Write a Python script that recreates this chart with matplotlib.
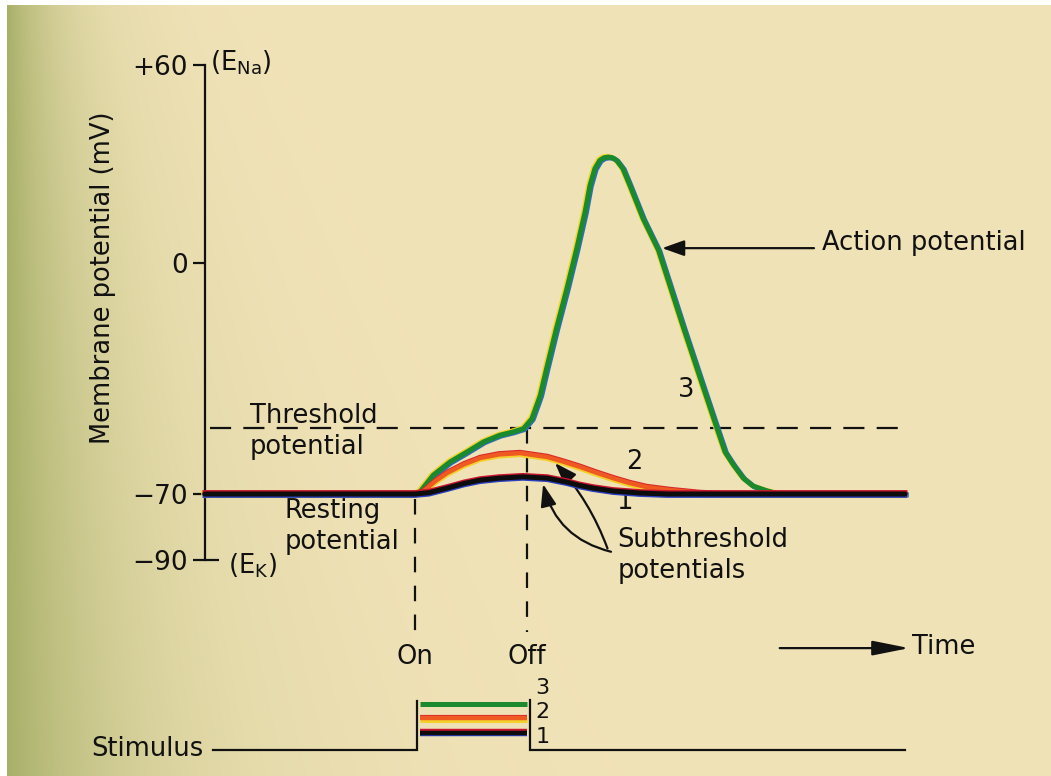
import numpy as np
import matplotlib
matplotlib.use("Agg")
import matplotlib.pyplot as plt
from matplotlib import transforms

plt.rcParams['font.family'] = ['DejaVu Sans']
plt.rcParams['mathtext.default'] = 'regular'

# ---- membrane potential scale (mV) ----
Y_TICKS = [60, 0, -70, -90]
Y_TICK_LABELS = ['+60', '0', '\u221270', '\u221290']
E_NA = 60
E_K = -90
V_REST = -70
THRESHOLD = -50

# ---- stimulus timing (arbitrary time units) ----
T_ON = 3.0
T_OFF = 4.6
T_END = 10.0

# ---- trace 3: suprathreshold response (action potential) ----
t3 = [0.0, 3.0, 3.07, 3.26, 3.5, 3.74, 3.98, 4.21, 4.4, 4.55, 4.67, 4.74, 4.79,
      4.88, 5.02, 5.17, 5.31, 5.43, 5.5, 5.57, 5.64, 5.7, 5.76, 5.82, 5.88,
      5.97, 6.07, 6.26, 6.48, 6.84, 7.1, 7.31, 7.43, 7.55, 7.69, 7.83, 8.02,
      8.2, 10.0]
v3 = [-70, -70, -69.4, -64.3, -60.3, -57.3, -54.2, -52.2, -51.2, -50.2, -47.2,
      -43.1, -40.1, -32.0, -19.9, -7.8, 4.3, 15.5, 23.5, 28.6, 31.1, 31.9, 32.1,
      31.9, 31.1, 28.6, 23.5, 13.4, 3.8, -19.9, -36.5, -49.8, -57.3, -61.2,
      -65.2, -67.6, -69.0, -70, -70]

# ---- trace 2: larger subthreshold response ----
t2 = [0.0, 3.0, 3.11, 3.29, 3.46, 3.7, 3.93, 4.2, 4.5, 4.89, 5.12, 5.36, 5.6,
      5.83, 6.07, 6.31, 6.64, 7.07, 7.4, 10.0]
v2 = [-70, -70, -69.4, -66.1, -63.6, -61.0, -59.1, -58.0, -57.6, -58.8, -60.2,
      -61.8, -63.6, -65.2, -66.7, -67.9, -68.8, -69.7, -70, -70]

# ---- trace 1: small subthreshold response ----
t1 = [0.0, 3.0, 3.2, 3.46, 3.7, 3.93, 4.2, 4.54, 4.89, 5.17, 5.35, 5.54, 5.83,
      6.21, 6.6, 10.0]
v1 = [-70, -70, -69.6, -68.2, -66.8, -65.8, -65.2, -64.8, -65.2, -66.4, -67.4,
      -68.2, -69.1, -69.7, -70, -70]

# ---- stimulus strengths (arbitrary units) ----
STIM_LEVELS = [1.2, 2.2, 3.2]
STIM_LABELS = ['1', '2', '3']

W, H = 1051, 776
fig = plt.figure(figsize=(W / 100, H / 100), dpi=100)
fig.patch.set_facecolor('white')

# paper background, olive toward the binding edge
bg = fig.add_axes([0, 0, 1, 1], zorder=0)
yy, xx = np.mgrid[0:H, 0:W]
reach = 55.0 + 85.0 * yy / H
w = np.exp(-np.clip(xx - 7, 0, None) / reach)
paper = np.array([241, 227, 184]) / 255.0
olive = np.array([168, 176, 104]) / 255.0
img = paper + (olive - paper) * w[..., None]
img[:, :7] = 1.0
img[:5, :] = 1.0
bg.imshow(img, extent=(0, W, H, 0), aspect='auto', interpolation='bilinear')
bg.set_xlim(0, W)
bg.set_ylim(H, 0)
bg.axis('off')

# main axes: time (x) vs membrane potential (y)
X0, SX = 205.0, 70.0      # pixel of t=0, pixels per time unit
Y0, SY = 263.0, 3.3       # pixel of 0 mV, pixels per mV
ax = fig.add_axes([0, 0, 1, 1], zorder=1)
ax.patch.set_visible(False)
ax.set_xlim(-X0 / SX, (W - X0) / SX)
ax.set_ylim((Y0 - H) / SY, Y0 / SY)
for s in ('top', 'right', 'bottom'):
    ax.spines[s].set_visible(False)
ax.spines['left'].set_position(('data', 0))
ax.spines['left'].set_bounds(E_K, E_NA)
ax.spines['left'].set_linewidth(1.6)
ax.spines['left'].set_color('#111111')
ax.set_xticks([])
ax.yaxis.remove_overlapping_locs = False
ax.set_yticks(Y_TICKS)
ax.set_yticklabels(Y_TICK_LABELS)
ax.set_yticks([E_K], minor=True)
ax.tick_params(axis='y', which='major', direction='out', length=9, width=1.6,
               pad=3.5, labelsize=19, colors='#111111')
ax.tick_params(axis='y', which='minor', direction='in', length=10, width=1.6,
               color='#111111', labelleft=False)

TXT = dict(fontsize=18.5, color='#111111')
HEAD = '-|>,head_length=0.9,head_width=0.32'


def shifted(dx, dy, axes=ax):
    return transforms.offset_copy(axes.transData, fig=fig, x=dx, y=dy, units='dots')


ax.text(-1.457, -4.5, 'Membrane potential (mV)', rotation=90,
        ha='center', va='center', **TXT)
ax.text(0.07, E_NA + 0.6, '(E$_{Na}$)', ha='left', va='center', **TXT)
ax.text(0.33, E_K - 1.8, '(E$_{K}$)', ha='left', va='center', **TXT)

# threshold
ax.plot([0.07, T_END], [THRESHOLD, THRESHOLD], color='#111111', lw=1.6,
        dashes=(9.5, 5.5), zorder=2)
ax.text(0.64, -51.0, 'Threshold\npotential', ha='left', va='center',
        linespacing=1.25, **TXT)
ax.text(1.14, -79.7, 'Resting\npotential', ha='left', va='center',
        linespacing=1.25, **TXT)

# stimulus on / off markers
ax.plot([T_ON, T_ON], [V_REST - 1.5, -111.8], color='#111111', lw=1.6,
        dashes=(7, 6), zorder=2)
ax.plot([T_OFF, T_OFF], [THRESHOLD, -111.8], color='#111111', lw=1.6,
        dashes=(7, 6), zorder=2)
ax.text(T_ON, -119.4, 'On', ha='center', va='center', **TXT)
ax.text(T_OFF, -119.4, 'Off', ha='center', va='center', **TXT)

# traces, with slightly misregistered print colours
LW = 3.6
ax.plot(t3, v3, color='#f0d52a', lw=LW, transform=shifted(-1.3, 0.8), zorder=3)
ax.plot(t3, v3, color='#2d6fb5', lw=LW, transform=shifted(1.3, -0.8), zorder=3)
ax.plot(t3, v3, color='#1b8a2e', lw=LW, zorder=3.5,
        solid_capstyle='round', solid_joinstyle='round')

ax.plot(t2, v2, color='#f5cf2a', lw=LW, transform=shifted(0, -1.6), zorder=4)
ax.plot(t2, v2, color='#d8262a', lw=3.0, transform=shifted(0, 1.2), zorder=4)
ax.plot(t2, v2, color='#ee5a22', lw=3.2, zorder=4.5,
        solid_capstyle='round', solid_joinstyle='round')

ax.plot(t1, v1, color='#c8142e', lw=3.6, transform=shifted(0, 1.4), zorder=5)
ax.plot(t1, v1, color='#2a3fc0', lw=3.6, transform=shifted(0, -1.4), zorder=5)
ax.plot(t1, v1, color='#0d0d0d', lw=3.6, zorder=5.5,
        solid_capstyle='round', solid_joinstyle='round')

# trace numbers
ax.text(6.87, -38.5, '3', ha='center', va='center', **TXT)
ax.text(6.14, -60.3, '2', ha='center', va='center', **TXT)
ax.text(5.99, -72.5, '1', ha='center', va='center', **TXT)

# annotations
ax.annotate('', xy=(6.53, 4.5), xytext=(8.7, 4.5),
            arrowprops=dict(arrowstyle=HEAD, mutation_scale=15, lw=1.6,
                            color='#111111', shrinkA=0, shrinkB=0))
ax.text(8.81, 6.0, 'Action potential', ha='left', va='center', **TXT)

ax.text(5.89, -88.5, 'Subthreshold\npotentials', ha='left', va='center',
        linespacing=1.25, **TXT)
ax.annotate('', xy=(4.83, -67.0), xytext=(5.8, -87.5),
            arrowprops=dict(arrowstyle=HEAD, mutation_scale=15, lw=1.6,
                            color='#111111', shrinkA=0, shrinkB=0,
                            connectionstyle='arc3,rad=-0.3'))
ax.annotate('', xy=(5.0, -60.6), xytext=(5.75, -86.5),
            arrowprops=dict(arrowstyle=HEAD, mutation_scale=15, lw=1.6,
                            color='#111111', shrinkA=0, shrinkB=0,
                            connectionstyle='arc3,rad=0.1'))

# time arrow
ax.annotate('', xy=(10.06, -116.7), xytext=(8.21, -116.7),
            arrowprops=dict(arrowstyle='-|>,head_length=1.5,head_width=0.3',
                            mutation_scale=15, lw=1.6, color='#111111',
                            shrinkA=0, shrinkB=0))
ax.text(10.1, -116.4, 'Time', ha='left', va='center', **TXT)

# stimulus panel
SPX = 14.5   # pixels per stimulus unit
SY0 = 750.0  # pixel of zero stimulus
sx = fig.add_axes([0, 0, 1, 1], zorder=2)
sx.patch.set_visible(False)
sx.axis('off')
sx.set_xlim(ax.get_xlim())
sx.set_ylim((SY0 - H) / SPX, SY0 / SPX)

top = max(STIM_LEVELS) + 0.2
sx.plot([0.12, T_ON + 0.03, T_ON + 0.03], [0, 0, top], color='#111111', lw=1.6,
        solid_joinstyle='miter')
sx.plot([T_OFF + 0.05, T_OFF + 0.05, T_END], [top + 0.05, 0, 0], color='#111111',
        lw=1.6, solid_joinstyle='miter')
sx.text(-0.02, 0.05, 'Stimulus', ha='right', va='center', **TXT)

x_bar = [T_ON + 0.07, T_OFF]
l1, l2, l3 = STIM_LEVELS
sx.plot(x_bar, [l3, l3], color='#1b8a2e', lw=LW, solid_capstyle='butt')
sx.plot(x_bar, [l2, l2], color='#f5cf2a', lw=LW, transform=shifted(0, -1.6, sx),
        solid_capstyle='butt')
sx.plot(x_bar, [l2, l2], color='#d8262a', lw=3.0, transform=shifted(0, 1.2, sx),
        solid_capstyle='butt')
sx.plot(x_bar, [l2, l2], color='#ee5a22', lw=3.2, solid_capstyle='butt')
sx.plot(x_bar, [l1, l1], color='#c8142e', lw=3.2, transform=shifted(0, 1.3, sx),
        solid_capstyle='butt')
sx.plot(x_bar, [l1, l1], color='#2a3fc0', lw=3.2, transform=shifted(0, -1.3, sx),
        solid_capstyle='butt')
sx.plot(x_bar, [l1, l1], color='#0d0d0d', lw=3.2, solid_capstyle='butt')

for lvl, lab, dy in zip(STIM_LEVELS, STIM_LABELS, [-0.3, 0.4, 1.1]):
    sx.text(T_OFF + 0.22, lvl + dy, lab, ha='center', va='center',
            fontsize=16, color='#111111')

fig.savefig('out.png', dpi=100, facecolor=fig.get_facecolor())
